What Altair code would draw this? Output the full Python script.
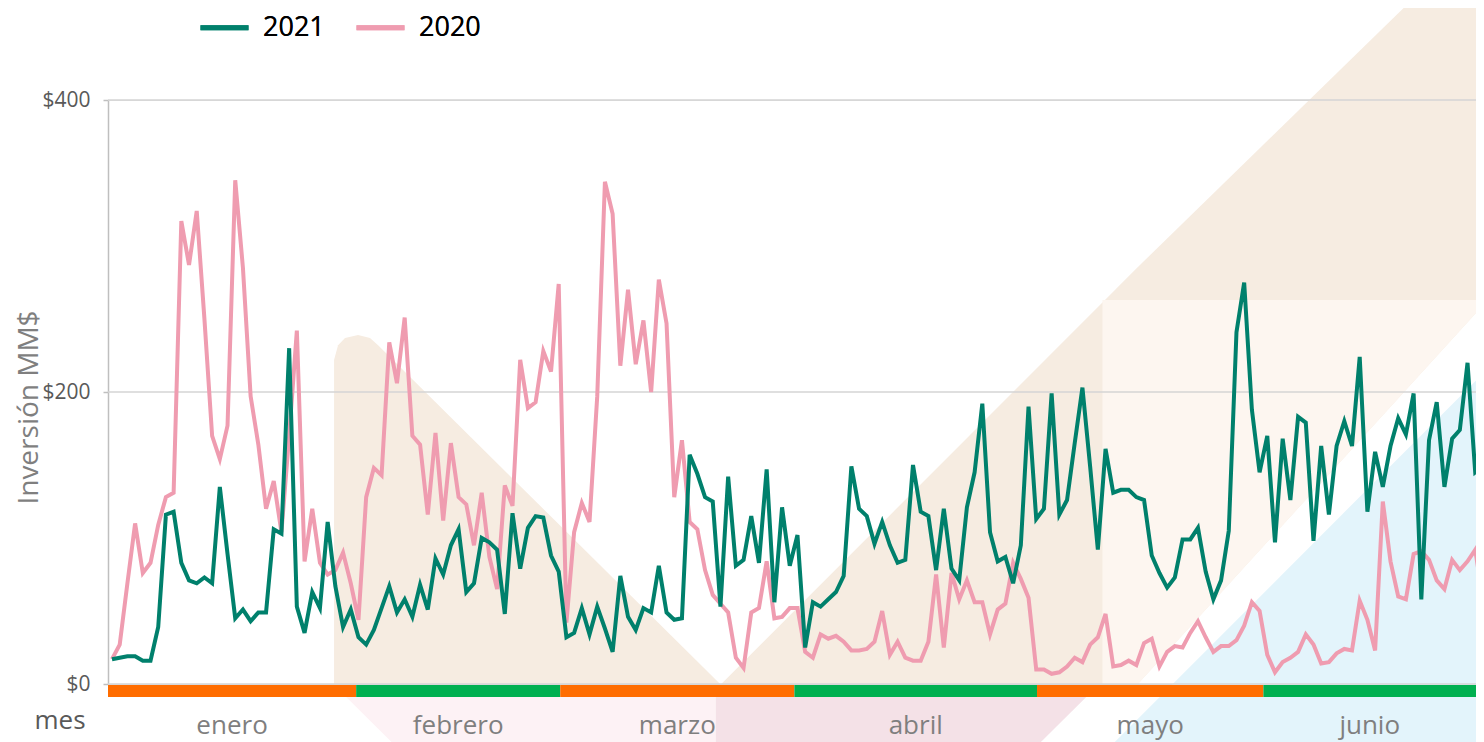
import altair as alt
import pandas as pd

# ---- data (daily investment, MM$) ----
v2021 = [17, 18, 19, 19, 16, 16, 39, 116, 118, 83,
         71, 69, 73, 69, 135, 89, 45, 51, 43, 49,
         49, 106, 103, 230, 53, 35, 63, 52, 111, 67,
         39, 51, 32, 27, 37, 52, 67, 49, 58, 46,
         68, 51, 86, 75, 95, 106, 63, 69, 100, 97,
         92, 48, 117, 79, 107, 115, 114, 88, 77, 32,
         35, 52, 34, 53, 38, 22, 74, 46, 37, 52,
         49, 81, 49, 44, 45, 157, 144, 128, 125, 53,
         142, 81, 85, 115, 83, 147, 56, 121, 81, 102,
         25, 56, 53, 58, 63, 74, 149, 120, 115, 96,
         111, 95, 83, 85, 150, 118, 115, 78, 120, 79,
         71, 121, 145, 192, 104, 84, 87, 69, 95, 190,
         113, 120, 199, 116, 126, 165, 203, 149, 92, 161,
         131, 133, 133, 128, 126, 88, 76, 66, 73, 99,
         99, 107, 77, 58, 71, 105, 241, 275, 188, 145,
         170, 97, 168, 126, 183, 179, 98, 163, 116, 163,
         180, 163, 224, 118, 159, 135, 163, 182, 171, 199,
         58, 167, 193, 135, 168, 174, 220, 145, 149, 195]

v2020 = [17, 27, 69, 110, 76, 83, 109, 128, 131, 317,
         287, 324, 250, 170, 154, 177, 345, 285, 197, 164,
         120, 139, 104, 170, 242, 84, 120, 83, 75, 78,
         90, 69, 44, 128, 148, 143, 234, 206, 251, 170,
         164, 116, 172, 112, 165, 128, 123, 95, 131, 87,
         65, 136, 122, 222, 189, 193, 228, 214, 274, 42,
         104, 124, 111, 197, 344, 322, 218, 270, 219, 249,
         200, 277, 247, 128, 167, 111, 106, 78, 61, 55,
         49, 18, 11, 49, 52, 84, 45, 46, 52, 52,
         22, 18, 34, 31, 33, 29, 23, 23, 24, 29,
         50, 20, 29, 18, 16, 16, 29, 75, 25, 76,
         58, 71, 56, 56, 34, 51, 55, 83, 72, 59,
         10, 10, 7, 8, 12, 18, 15, 27, 32, 48,
         12, 13, 16, 13, 28, 31, 12, 22, 26, 25,
         35, 43, 32, 22, 26, 26, 30, 40, 56, 50,
         20, 8, 15, 18, 22, 34, 27, 14, 15, 21,
         24, 23, 57, 44, 23, 125, 84, 60, 58, 89,
         91, 85, 71, 65, 85, 78, 84, 92, 58, 60]

series_names = ["2021", "2020"]
months = ["enero", "febrero", "marzo", "abril", "mayo", "junio"]
month_start = [-0.52, 31.7, 58.2, 88.6, 120.1, 149.5]
month_end = [31.7, 58.2, 88.6, 120.1, 149.5, 177.1]
y_ticks = [0, 200, 400]
x_axis_title = ["mes"]

# decorative background shapes (in day-index / MM$ units)
deco_a_x = [28.83, 29.35, 30.26, 31.95, 33.5, 34.55, 78.96]
deco_a_top = [222, 232, 237, 239, 237, 232, 0]
deco_a_bot = [0, 0, 0, 0, 0, 0, 0]
deco_b_x = [79.1, 133.2, 178.2]
deco_b_top = [0, 285.6, 517]
deco_b_bot = [0, 0, 260.5]
deco_c_x = [128.6, 133.2, 178.2]
deco_c_top = [263, 263, 263]
deco_c_bot = [0, 0, 260.5]
deco_d_x = [129.2, 178.2]
deco_d_top = [-45, 213.7]
deco_d_bot = [-45, -45]
deco_e_x = [30.4, 37.3, 78.4]
deco_e_top = [-8.9, -8.9, -8.9]
deco_e_bot = [-8.9, -45, -45]
deco_f_x = [78.4, 119.6, 126.5]
deco_f_top = [-8.9, -8.9, -8.9]
deco_f_bot = [-45, -45, -8.9]

# ---- build tables ----
n = len(v2021)
lines_df = pd.DataFrame({
    "dia": list(range(n)) + list(range(len(v2020))),
    "valor": v2021 + v2020,
    "serie": ["2021"] * n + ["2020"] * len(v2020),
})
months_df = pd.DataFrame({"mes": months, "start": month_start, "end": month_end})
grid_df = pd.DataFrame({"v": y_ticks})
mes_df = pd.DataFrame({"t": x_axis_title})

W, H = 1368, 584
xscale = alt.Scale(domain=[-0.52, 177.1], nice=False, zero=False)
yscale = alt.Scale(domain=[0, 400], nice=False, zero=False)
FONT = "Open Sans"

yaxis = alt.Axis(
    values=y_ticks, labelExpr="'$' + datum.value", grid=False,
    domainColor="#BFBFBF", domainWidth=1.5, tickColor="#BFBFBF", tickSize=5, tickWidth=1.5,
    labelFontSize=21, labelColor="#595959", labelFont=FONT, labelPadding=13,
    title="Inversión MM$", titleFontSize=28, titleFont=FONT, titleColor="#7F7F7F",
    titleFontWeight="normal", titleX=-71, titleY=307, titleBaseline="alphabetic",
    titleAngle=270, titleAlign="center",
)


def deco(xs, top, bot, color):
    d = pd.DataFrame({"x": xs, "top": top, "bot": bot})
    return alt.Chart(d).mark_area(color=color, opacity=1, clip=False).encode(
        x=alt.X("x:Q", scale=xscale, axis=None),
        y=alt.Y("top:Q", scale=yscale, axis=yaxis),
        y2="bot:Q",
    )


shapes = [
    deco(deco_a_x, deco_a_top, deco_a_bot, "#F6ECE1"),
    deco(deco_b_x, deco_b_top, deco_b_bot, "#F6ECE1"),
    deco(deco_c_x, deco_c_top, deco_c_bot, "#FDF6F0"),
    deco(deco_d_x, deco_d_top, deco_d_bot, "#E3F4FB"),
    deco(deco_e_x, deco_e_top, deco_e_bot, "#FDF2F5"),
    deco(deco_f_x, deco_f_top, deco_f_bot, "#F4E1E7"),
]

grid = alt.Chart(grid_df).mark_rule(color="#D4D4D4", strokeWidth=1.5).encode(
    y=alt.Y("v:Q", scale=yscale, axis=yaxis)
)

color = alt.Color(
    "serie:N",
    scale=alt.Scale(domain=series_names, range=["#00806C", "#EF9CB0"]),
    legend=alt.Legend(
        title=None, orient="none", legendX=90, legendY=-99, direction="horizontal",
        symbolType="stroke", symbolSize=2304, symbolStrokeWidth=5,
        labelFontSize=27, labelFont=FONT, labelColor="#000000", labelOffset=12,
        columnPadding=21, padding=0, labelLimit=200,
    ),
)

base_line = alt.Chart(lines_df).mark_line(strokeWidth=4, clip=True)

pink = base_line.transform_filter(alt.datum.serie == "2020").encode(
    x=alt.X("dia:Q", scale=xscale, axis=None),
    y=alt.Y("valor:Q", scale=yscale, axis=yaxis),
    color=color,
)
green = base_line.transform_filter(alt.datum.serie == "2021").encode(
    x=alt.X("dia:Q", scale=xscale, axis=None),
    y=alt.Y("valor:Q", scale=yscale, axis=yaxis),
    color=color,
)

bars = alt.Chart(months_df).mark_rect().encode(
    x=alt.X("start:Q", scale=xscale, axis=None),
    x2="end:Q",
    y=alt.value(H + 1),
    y2=alt.value(H + 13),
    fill=alt.Fill("mes:N", scale=alt.Scale(domain=months, range=["#FF6D00", "#00B050"] * 3), legend=None),
)

month_text = alt.Chart(months_df).transform_calculate(
    mid="(datum.start + datum.end) / 2"
).mark_text(font=FONT, fontSize=26, color="#7F7F7F", baseline="alphabetic", align="center").encode(
    x=alt.X("mid:Q", scale=xscale, axis=None),
    y=alt.value(H + 50),
    text="mes:N",
)

mes_text = alt.Chart(mes_df).mark_text(
    font=FONT, fontSize=26, color="#595959", baseline="alphabetic", align="center"
).encode(x=alt.value(-48), y=alt.value(H + 45), text="t:N")

chart = alt.layer(
    *shapes, grid, bars, pink, green, month_text, mes_text
).resolve_scale(
    color="independent", fill="independent"
).properties(
    width=W, height=H,
    autosize=alt.AutoSizeParams(type="none"),
    padding={"left": 100, "top": 92, "right": 0, "bottom": 58},
).configure_view(stroke=None).configure(background="white")

chart.save("out.html", embed_options={"renderer": "svg", "actions": False})
